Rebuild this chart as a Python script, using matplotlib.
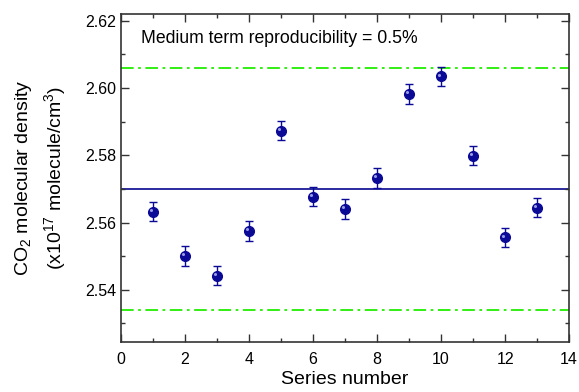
import numpy as np
import matplotlib
matplotlib.use('Agg')
import matplotlib.pyplot as plt
import matplotlib.transforms as mtransforms

plt.rcParams['font.family'] = ['Liberation Sans', 'DejaVu Sans']
plt.rcParams['mathtext.default'] = 'regular'

series = [1, 2, 3, 4, 5, 6, 7, 8, 9, 10, 11, 12, 13]
density = [2.5632, 2.5501, 2.5442, 2.5575, 2.5873, 2.5677, 2.5640, 2.5732,
           2.5982, 2.6035, 2.5799, 2.5556, 2.5644]
err = [0.0029, 0.0029, 0.0029, 0.0029, 0.0029, 0.0029, 0.0029, 0.0029,
       0.0029, 0.0029, 0.0029, 0.0029, 0.0029]
mean_val = 2.570
upper_lim = 2.606
lower_lim = 2.534
note = 'Medium term reproducibility = 0.5%'

navy = '#0a0a96'

fig = plt.figure(figsize=(5.79, 3.92), dpi=100)
ax = fig.add_axes([0.209, 0.128, 0.774, 0.836])

ax.axhline(mean_val, color='#1a1a9a', lw=1.3, zorder=1)
ax.axhline(upper_lim, color='#22ee00', lw=1.3, ls=(0, (7, 2.5, 1.5, 2.5)), zorder=1)
ax.axhline(lower_lim, color='#22ee00', lw=1.3, ls=(0, (7, 2.5, 1.5, 2.5)), zorder=1)

ax.errorbar(series, density, yerr=err, fmt='o', color=navy, ecolor=navy,
            mec=navy, mfc=navy, elinewidth=1.0, capsize=3.2, capthick=1.0,
            markersize=7, zorder=3)
# small highlight to mimic the shaded spheres
off = mtransforms.offset_copy(ax.transData, fig=fig, x=-1.2, y=1.2, units='points')
ax.plot(series, density, 'o', color='#9a9ae8', markersize=2.2, markeredgewidth=0,
        transform=off, zorder=4)

ax.set_xlim(0, 14)
ax.set_ylim(2.5245, 2.622)
ax.set_xticks(np.arange(0, 15, 2))
ax.set_xticks(np.arange(0, 15, 1), minor=True)
ax.set_yticks([2.54, 2.56, 2.58, 2.60, 2.62])
ax.set_yticks(np.arange(2.53, 2.621, 0.01), minor=True)
ax.yaxis.set_major_formatter(matplotlib.ticker.FormatStrFormatter('%.2f'))

ax.tick_params(which='both', direction='in', top=True, right=True, labelsize=11.5,
               color='#333333')
ax.tick_params(axis='x', which='major', pad=7)
ax.tick_params(which='major', length=6, width=1)
ax.tick_params(which='minor', length=3, width=1)
for s in ax.spines.values():
    s.set_linewidth(1.2)
    s.set_color('#333333')

ax.set_xlabel('Series number', fontsize=14, labelpad=3)
ax.set_ylabel('CO$_2$ molecular density\n(x10$^{17}$ molecule/cm$^3$)', fontsize=14,
              labelpad=12, linespacing=1.45)

ax.text(0.045, 0.925, note, transform=ax.transAxes, fontsize=12.7, va='center', ha='left')

fig.savefig('out.png', dpi=100)
